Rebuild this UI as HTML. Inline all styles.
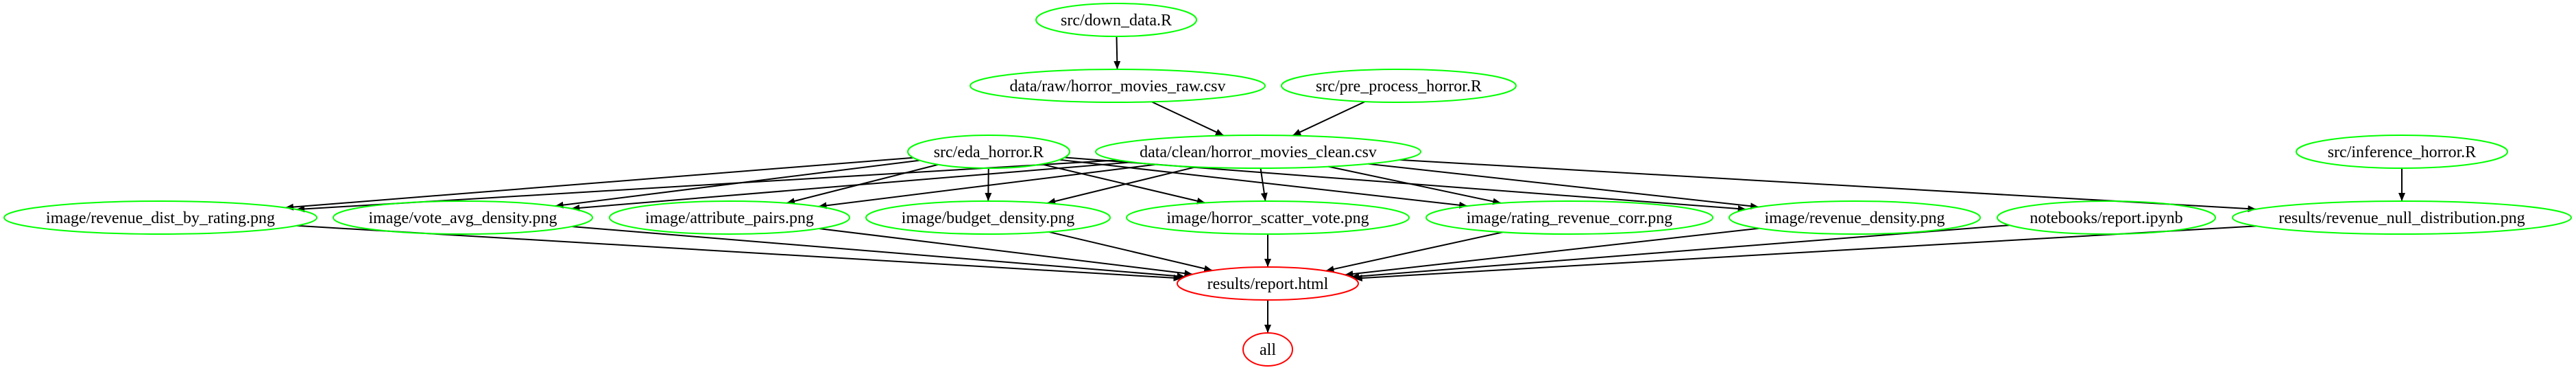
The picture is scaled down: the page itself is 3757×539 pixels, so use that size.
<!DOCTYPE html>
<html><head><meta charset="utf-8"><style>
html,body{margin:0;padding:0;background:#fff;width:3757px;height:539px;overflow:hidden}
svg text{font-family:"Liberation Serif",serif;font-size:24px;fill:#000}
</style></head><body>
<svg id="g" width="3757" height="539" xmlns="http://www.w3.org/2000/svg">
<defs><marker id="a" markerWidth="12" markerHeight="10" refX="12" refY="5" orient="auto" markerUnits="userSpaceOnUse"><path d="M0,0 L12,5 L0,10 z" fill="#000"/></marker></defs>
</svg>
<script>
var N={
down:[1628,29,117,24,'src/down_data.R','g'],
raw:[1630,125,215,24,'data/raw/horror_movies_raw.csv','g'],
pre:[2040,125,171,24,'src/pre_process_horror.R','g'],
eda:[1442,221,118,24,'src/eda_horror.R','g'],
clean:[1835,221,237,24,'data/clean/horror_movies_clean.csv','g'],
inf:[3503,221,154,24,'src/inference_horror.R','g'],
rd:[234,317,228,24,'image/revenue_dist_by_rating.png','g'],
va:[675,317,189,24,'image/vote_avg_density.png','g'],
ap:[1064,317,175,24,'image/attribute_pairs.png','g'],
bd:[1441,317,178,24,'image/budget_density.png','g'],
hs:[1849,317,206,24,'image/horror_scatter_vote.png','g'],
rr:[2289,317,209,24,'image/rating_revenue_corr.png','g'],
rv:[2705,317,183,24,'image/revenue_density.png','g'],
nb:[3072,317,159,24,'notebooks/report.ipynb','g'],
nu:[3503,317,247,24,'results/revenue_null_distribution.png','g'],
rep:[1849,413,132,24,'results/report.html','r'],
all:[1849,509,36,24,'all','r']};
var E=[['down','raw'],['raw','clean'],['pre','clean'],['inf','nu'],['rep','all']];
['rd','va','ap','bd','hs','rr','rv'].forEach(function(k){E.push(['eda',k]);});
['rd','va','ap','bd','hs','rr','rv','nu'].forEach(function(k){E.push(['clean',k]);});
['rd','va','ap','bd','hs','rr','rv','nb','nu'].forEach(function(k){E.push([k,'rep']);});
var s='';
function bnd(n,dx,dy){var t=1/Math.sqrt(dx*dx/(n[2]*n[2])+dy*dy/(n[3]*n[3]));return [n[0]+dx*t,n[1]+dy*t];}
E.forEach(function(e){var a=N[e[0]],b=N[e[1]];var dx=b[0]-a[0],dy=b[1]-a[1];
var p=bnd(a,dx,dy),q=bnd(b,-dx,-dy);
s+='<line x1="'+p[0]+'" y1="'+p[1]+'" x2="'+q[0]+'" y2="'+q[1]+'" stroke="#000" stroke-width="2" marker-end="url(#a)"/>';});
for(var k in N){var n=N[k];
s+='<ellipse cx="'+n[0]+'" cy="'+n[1]+'" rx="'+n[2]+'" ry="'+n[3]+'" fill="none" stroke="'+(n[5]=='g'?'#00ff00':'#ff0000')+'" stroke-width="2"/>';
s+='<text x="'+n[0]+'" y="'+(n[1]+8)+'" text-anchor="middle">'+n[4]+'</text>';}
document.getElementById('g').insertAdjacentHTML('beforeend',s);
</script>
</body></html>
